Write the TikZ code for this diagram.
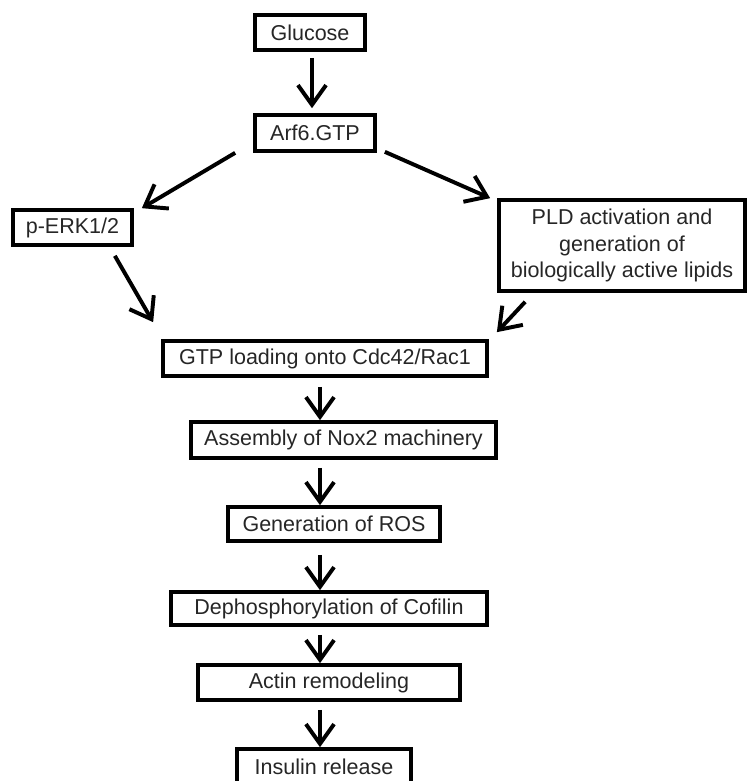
\documentclass[tikz,border=0pt]{standalone}
\usepackage{fontspec}
\setmainfont{Liberation Sans}
\usepackage{tikz}
\usetikzlibrary{arrows.meta,calc}

\begin{document}
\begin{tikzpicture}[x=0.025cm, y=-0.025cm,
    stepbox/.style={draw=black, line width=2.6pt, align=center, inner sep=0pt,
      text=black!85, font=\fontsize{15.3}{19}\selectfont, minimum height=0.875cm},
    flow/.style={line width=2.8pt, -{Straight Barb[length=14pt,width=20pt]}}]
    \clip (0,0) rectangle (749,781);
    \node[stepbox, minimum width=2.75cm] (glucose) at (310,32.5) {Glucose};
    \node[stepbox, minimum width=3cm, minimum height=0.9cm] (arf) at (315,133) {Arf6.GTP};
    \node[stepbox, minimum width=2.975cm] (perk) at (72.5,227.5) {p-ERK1/2};
    \node[stepbox, minimum width=6.15cm, minimum height=2.275cm] (pld) at (622,245.5)
      {PLD activation and\\generation of\\biologically active lipids};
    \node[stepbox, minimum width=8.1cm] (gtp) at (325,358.5) {GTP loading onto Cdc42/Rac1};
    \node[stepbox, minimum width=7.625cm, minimum height=0.9cm] (nox) at (343.5,440) {Assembly of Nox2 machinery};
    \node[stepbox, minimum width=5.3cm, minimum height=0.85cm] (ros) at (334,524) {Generation of ROS};
    \node[stepbox, minimum width=7.9cm, minimum height=0.825cm] (cof) at (329,608.5) {Dephosphorylation of Cofilin};
    \node[stepbox, minimum width=6.55cm] (actin) at (329,682.5) {Actin remodeling};
    \node[stepbox, minimum width=4.35cm] (insulin) at (324,766.5) {Insulin release};
    \coordinate (axis) at (320,0);
    % upper part
    \draw[flow] ($(glucose.south)+(2,6)$) -- ($(glucose.south |- arf.north)+(2,-5)$);
    \draw[flow] ($(arf.south west)+(-18,0)$) -- ($(perk.north east)+(8,0)$);
    \draw[flow] ($(arf.south east)+(8,-1)$) -- ($(pld.north west)+(-7,0)$);
    \draw[flow] ($(perk.south east)+(-19,9)$) -- ($(gtp.north west)+(-8,-17)$);
    \draw[flow] ($(pld.south west)+(28,9)$) -- ($(gtp.north east)+(8,-7)$);
    % main column
    \draw[flow] ($(gtp.south -| axis)+(0,9)$) -- (nox.north -| axis);
    \draw[flow] ($(nox.south -| axis)+(0,8)$) -- (ros.north -| axis);
    \draw[flow] ($(ros.south -| axis)+(0,12)$) -- (cof.north -| axis);
    \draw[flow] ($(cof.south -| axis)+(0,8)$) -- (actin.north -| axis);
    \draw[flow] ($(actin.south -| axis)+(0,8)$) -- (insulin.north -| axis);
\end{tikzpicture}
\end{document}
